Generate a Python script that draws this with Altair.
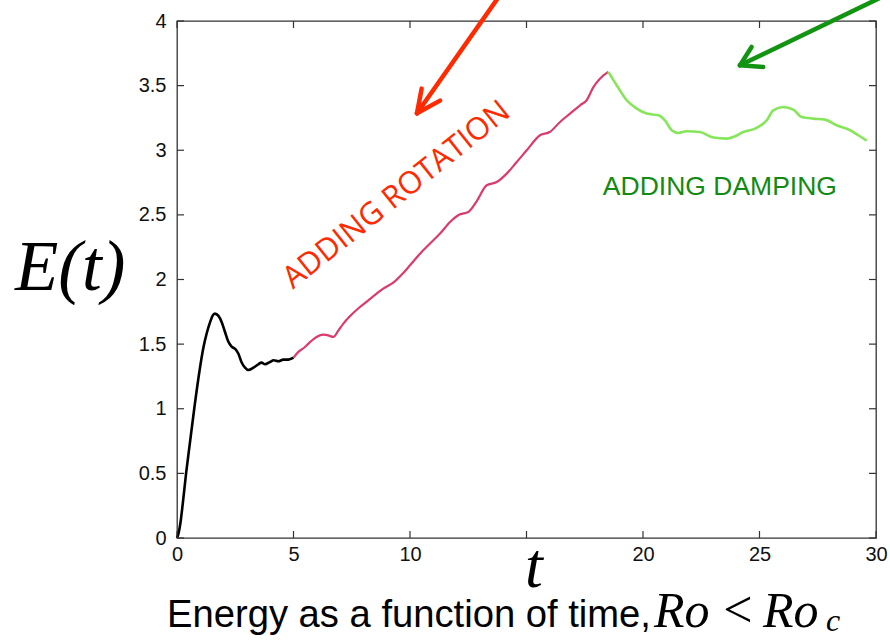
import altair as alt
import pandas as pd

# ---- data ----
t_black = [0, 0.07, 0.15, 0.25, 0.39, 0.55, 0.74, 0.93, 1.13, 1.27, 1.42, 1.53, 1.63, 1.77, 1.92, 2.06, 2.2,
           2.35, 2.53, 2.63, 2.77, 2.92, 3.06, 3.28, 3.49, 3.63, 3.78, 3.99, 4.15, 4.35, 4.56, 4.78, 5.0]
e_black = [0, 0.04, 0.12, 0.27, 0.5, 0.73, 1.0, 1.25, 1.47, 1.58, 1.67, 1.72, 1.736, 1.72, 1.67, 1.594, 1.52,
           1.48, 1.457, 1.427, 1.36, 1.318, 1.30, 1.318, 1.344, 1.357, 1.344, 1.362, 1.375, 1.367, 1.38, 1.38, 1.395]

t_rot = [5.0, 5.21, 5.49, 5.71, 5.99, 6.28, 6.49, 6.71, 6.93, 7.14, 7.42, 7.85, 8.21, 8.57, 8.85, 9.28, 9.71,
         10.0, 10.43, 10.86, 11.29, 11.72, 12.15, 12.5, 12.86, 13.29, 13.72, 14.15, 14.58, 15.01, 15.58, 16.0,
         16.44, 16.87, 17.30, 17.58, 17.87, 18.15, 18.51]
e_rot = [1.395, 1.44, 1.478, 1.516, 1.555, 1.573, 1.568, 1.555, 1.607, 1.659, 1.715, 1.787, 1.839, 1.891, 1.93,
         1.975, 2.05, 2.11, 2.20, 2.278, 2.355, 2.445, 2.504, 2.522, 2.605, 2.729, 2.754, 2.819, 2.909, 3.0,
         3.116, 3.141, 3.219, 3.284, 3.348, 3.387, 3.489, 3.554, 3.606]

t_damp = [18.51, 18.87, 19.30, 19.73, 20.16, 20.66, 20.94, 21.23, 21.52, 21.87, 22.45, 23.02, 23.59, 23.95,
          24.30, 24.81, 25.31, 25.59, 26.02, 26.45, 26.81, 27.31, 27.81, 28.31, 28.88, 29.24, 29.6]
e_damp = [3.606, 3.503, 3.387, 3.322, 3.284, 3.270, 3.232, 3.155, 3.134, 3.147, 3.141, 3.098, 3.090, 3.108,
          3.141, 3.167, 3.232, 3.309, 3.335, 3.314, 3.257, 3.245, 3.237, 3.193, 3.155, 3.116, 3.075]

x_ticks = [0, 5, 10, 15, 20, 25, 30]
x_labels = [0, 5, 10, 20, 25, 30]   # the "15" label is hidden under the t in the reference
y_ticks = [0, 0.5, 1, 1.5, 2, 2.5, 3, 3.5, 4]

# arrows (segments in data coordinates): shaft, two head wings
arrow_t = [10.30, 10.30, 10.30, 24.16, 24.16, 24.16]
arrow_e = [3.286, 3.286, 3.286, 3.657, 3.657, 3.657]
arrow_t2 = [13.90, 10.50, 11.29, 30.30, 24.66, 25.16]
arrow_e2 = [4.21, 3.477, 3.384, 4.19, 3.799, 3.644]
arrow_c = ["#ff2a00", "#ff2a00", "#ff2a00", "#129412", "#129412", "#129412"]

labels = ["ADDING ROTATION", "ADDING DAMPING"]
label_t = [9.44, 23.30]
label_e = [2.651, 2.717]

W, H = 699, 517
xs = alt.Scale(domain=[0, 30], nice=False, zero=False)
ys = alt.Scale(domain=[0, 4], nice=False, zero=False)

x_axis = alt.Axis(values=x_labels, title=None, ticks=False, tickSize=0, domain=False, grid=False,
                  labelFont="Liberation Sans", labelFontSize=20, labelColor="#111", labelPadding=6,
                  labelFlush=False, format="d")
y_axis = alt.Axis(values=y_ticks, title=None, ticks=False, tickSize=0, domain=False, grid=False,
                  labelFont="Liberation Sans", labelFontSize=20, labelColor="#111", labelPadding=11,
                  labelFlush=False, format="~g")

X = alt.X("t:Q", scale=xs, axis=x_axis)
Y = alt.Y("E:Q", scale=ys, axis=y_axis)


def curve(t, e, color, w):
    return alt.Chart(pd.DataFrame({"t": t, "E": e})).mark_line(
        color=color, strokeWidth=w, strokeJoin="round", interpolate="monotone").encode(x=X, y=Y)


black = curve(t_black, e_black, "#000000", 2.6)
rot = curve(t_rot, e_rot, "#dc3a6c", 2.2)
damp = curve(t_damp, e_damp, "#86e65a", 2.6)

ydf = pd.DataFrame({"E": y_ticks})
xdf = pd.DataFrame({"t": x_ticks})
tick_l = alt.Chart(ydf).mark_rule(color="#333", strokeWidth=1.2).encode(
    y=Y, x=alt.value(0), x2=alt.value(7))
tick_r = alt.Chart(ydf).mark_rule(color="#333", strokeWidth=1.2).encode(
    y=Y, x=alt.value(W), x2=alt.value(W - 7))
tick_b = alt.Chart(xdf).mark_rule(color="#333", strokeWidth=1.2).encode(
    x=X, y=alt.value(H), y2=alt.value(H - 7))
tick_t = alt.Chart(xdf).mark_rule(color="#333", strokeWidth=1.2).encode(
    x=X, y=alt.value(0), y2=alt.value(7))

adf = pd.DataFrame({"t": arrow_t, "E": arrow_e, "t2": arrow_t2, "E2": arrow_e2, "c": arrow_c})
arrows = alt.Chart(adf).mark_rule(strokeWidth=4.5, strokeCap="round").encode(
    x=X, y=Y, x2="t2:Q", y2="E2:Q", color=alt.Color("c:N", scale=None))

ldf = pd.DataFrame({"t": label_t, "E": label_e, "label": labels})
lab_rot = alt.Chart(ldf.iloc[[0]]).mark_text(
    font="Open Sans", fontSize=31, color="#ff2a00", angle=321.4, align="center", baseline="middle"
).encode(x=X, y=Y, text="label:N")
lab_damp = alt.Chart(ldf.iloc[[1]]).mark_text(
    font="Liberation Sans", fontSize=26.5, color="#138a13", align="center", baseline="middle"
).encode(x=X, y=Y, text="label:N")

one = pd.DataFrame({"k": [0]})


def ptext(txt, px, py, **kw):
    return alt.Chart(one).mark_text(baseline="alphabetic", **kw).encode(
        x=alt.value(px), y=alt.value(py), text=alt.value(txt))


ylab = ptext("E(t)", -162, 269, font="Liberation Serif", fontStyle="italic", fontSize=71,
             align="left", color="#000")
xlab = ptext("t", 357, 566, font="Liberation Serif", fontStyle="italic", fontSize=64,
             align="center", color="#000")
cap1 = ptext("Energy as a function of time,", -10, 606, font="Liberation Sans", fontSize=38.2,
             align="left", color="#000")
cap2 = ptext("Ro", 477, 606, font="Liberation Serif", fontStyle="italic", fontSize=50,
             align="left", color="#000")
cap3 = ptext("<", 561, 606, font="Liberation Serif", fontSize=52, align="center", color="#000")
cap4 = ptext("Ro", 586, 606, font="Liberation Serif", fontStyle="italic", fontSize=50,
             align="left", color="#000")
cap5 = ptext("c", 649, 610, font="Liberation Serif", fontStyle="italic", fontSize=32,
             align="left", color="#000")

chart = alt.layer(
    black, rot, damp, tick_l, tick_r, tick_b, tick_t, arrows, lab_rot, lab_damp,
    ylab, xlab, cap1, cap2, cap3, cap4, cap5
).properties(
    width=W, height=H,
    autosize=alt.AutoSizeParams(type="none"),
    padding={"left": 177, "top": 21, "right": 14, "bottom": 102},
    background="white",
).configure_view(stroke="#333", strokeWidth=1.3)

chart.save("out.html", embed_options={"renderer": "svg", "actions": False})
